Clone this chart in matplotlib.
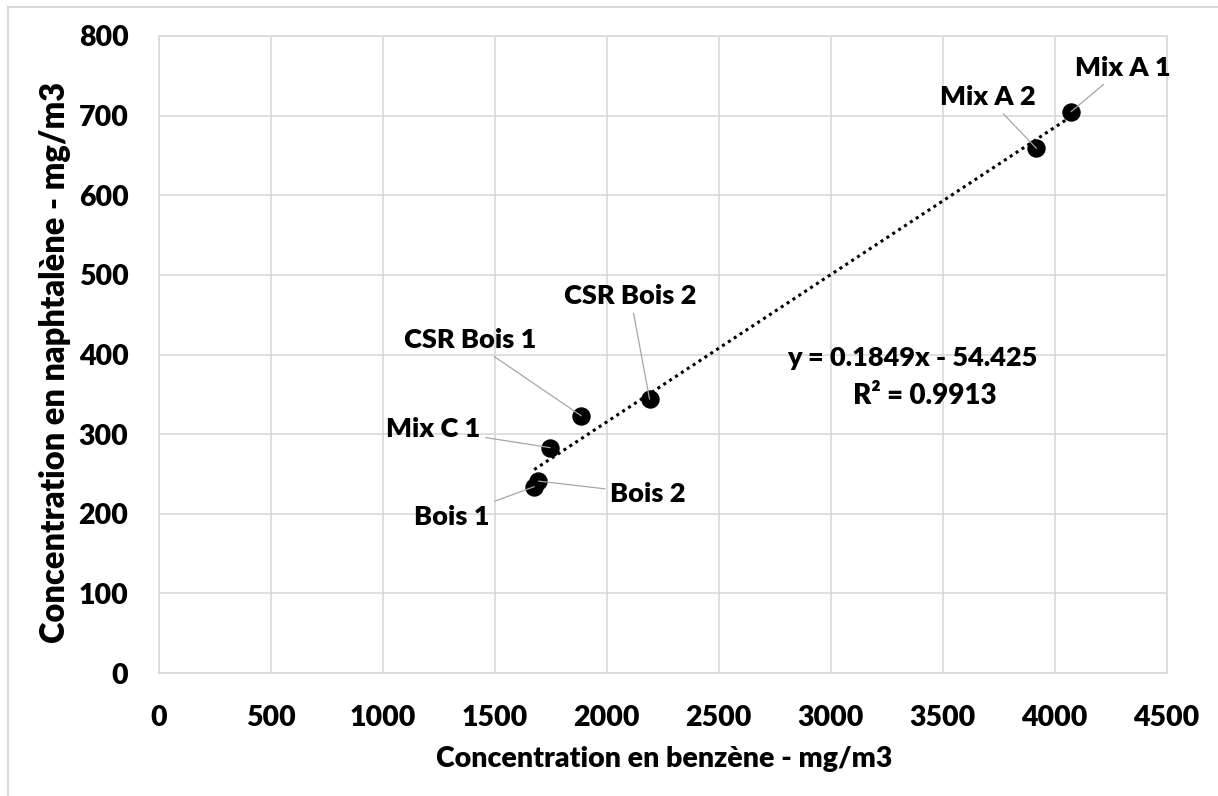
import numpy as np
import matplotlib
matplotlib.use("Agg")
import matplotlib.pyplot as plt
from matplotlib.patches import Rectangle

plt.rcParams['font.family'] = ['Lato', 'DejaVu Sans']
plt.rcParams['font.weight'] = 'heavy'
plt.rcParams['axes.labelweight'] = 'heavy'

# data
labels = ["Mix A 1", "Mix A 2", "CSR Bois 2", "CSR Bois 1", "Mix C 1", "Bois 2", "Bois 1"]
benzene = [4074, 3919, 2191, 1886, 1747, 1695, 1676]
naphtalene = [705, 659, 344, 323, 283, 241, 234]
slope, intercept, r2 = 0.1849, -54.425, 0.9913

# where the labels sit (data units)
label_pos = [(4307, 760), (3700, 723), (2105, 474), (1390, 418),
             (1224, 306), (2185, 225), (1309, 196)]

fig = plt.figure(figsize=(12.18, 7.96), dpi=100)
ax = fig.add_axes([159 / 1218, 1 - 673 / 796, 1007.5 / 1218, 637 / 796])

grid_c = "#d9d9d9"
ax.set_xlim(0, 4500)
ax.set_ylim(0, 800)
ax.set_xticks(np.arange(0, 4501, 500))
ax.set_yticks(np.arange(0, 801, 100))
ax.grid(True, color=grid_c, lw=1.2)
ax.set_axisbelow(True)
for s in ax.spines.values():
    s.set_color(grid_c)
    s.set_linewidth(1.2)
ax.tick_params(length=0, labelsize=20.5)
ax.tick_params(axis='x', pad=23)
ax.tick_params(axis='y', pad=22)

# trend line over the data range
xt = np.linspace(min(benzene), max(benzene), 50)
ax.plot(xt, slope * xt + intercept, color="black", ls=(0, (1, 1.3)), lw=2.2)

ax.scatter(benzene, naphtalene, s=150, color="black", zorder=3)

for lab, x, y, (tx, ty) in zip(labels, benzene, naphtalene, label_pos):
    ax.annotate(lab, xy=(x, y), xytext=(tx, ty), ha="center", va="center",
                fontsize=19.5, annotation_clip=False,
                arrowprops=dict(arrowstyle="-", color="#a6a6a6", lw=0.9,
                                shrinkA=2, shrinkB=0))

ax.text(3365, 395, f"y = {slope}x - {abs(intercept)}", ha="center", va="center",
        fontsize=19.5)
ax.text(3420, 348, f"R² = {r2}", ha="center", va="center", fontsize=20)

ax.set_xlabel("Concentration en benzène - mg/m3", fontsize=20.5)
ax.set_ylabel("Concentration en naphtalène - mg/m3", fontsize=23.5)
ax.xaxis.set_label_coords(0.501, -0.115)
ax.yaxis.set_label_coords(-0.087, 0.488)

# chart border
fig.patches.append(Rectangle((8 / 1218, -0.1), 2, 1 - 7 / 796 + 0.1,
                             transform=fig.transFigure, fill=False,
                             edgecolor=grid_c, lw=1.5))

fig.savefig("out.png", dpi=100)
